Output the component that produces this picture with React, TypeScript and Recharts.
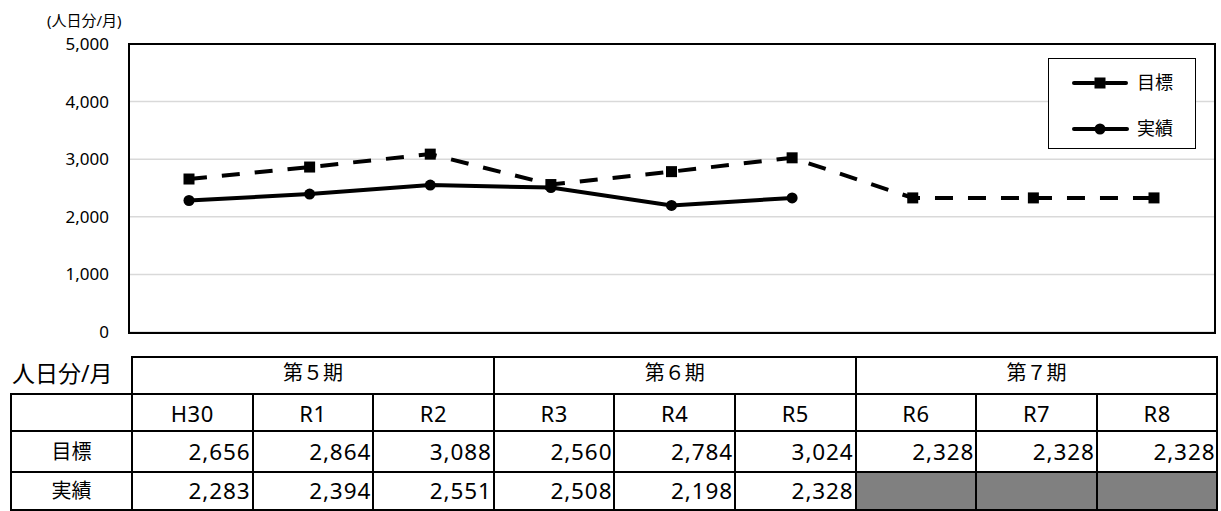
import { LineChart, Line, XAxis, YAxis, CartesianGrid, Legend } from 'recharts'

const categories = ['H30', 'R1', 'R2', 'R3', 'R4', 'R5', 'R6', 'R7', 'R8']
const targetValues = [2656, 2864, 3088, 2560, 2784, 3024, 2328, 2328, 2328]
const actualValues = [2283, 2394, 2551, 2508, 2198, 2328]
const periodLabels = ['第５期', '第６期', '第７期']
const periodSpan = 3
const yTicks = [0, 1000, 2000, 3000, 4000, 5000]
const seriesNames = ['目標', '実績']
const unitLabel = '(人日分/月)'
const tableUnit = '人日分/月'

const FONT = '"Noto Sans", "Noto Sans CJK JP", sans-serif'

const data = categories.map((name, i) => ({
  name,
  target: targetValues[i],
  actual: i < actualValues.length ? actualValues[i] : null,
}))

const fmt = (v: number) => v.toLocaleString('en-US')

function SquareDot(props: any) {
  const { cx, cy, index } = props
  if (cx == null || cy == null) return <g key={`sq-${index}`} />
  return <rect key={`sq-${index}`} x={cx - 5.5} y={cy - 5.5} width={11} height={11} fill="#000" />
}

function RoundDot(props: any) {
  const { cx, cy, index } = props
  if (cx == null || cy == null) return <g key={`rd-${index}`} />
  return <circle key={`rd-${index}`} cx={cx} cy={cy} r={5.5} fill="#000" />
}

function LegendBox() {
  return (
    <div
      style={{
        width: 148,
        height: 91,
        boxSizing: 'border-box',
        border: '1.5px solid #000',
        background: '#fff',
        fontFamily: FONT,
        fontSize: 18,
        color: '#000',
      }}
    >
      {seriesNames.map((name, i) => (
        <div key={name} style={{ position: 'relative', height: 45 }}>
          <svg width={60} height={20} style={{ position: 'absolute', left: 23, top: i === 0 ? 14 : 15 }}>
            {i === 0 ? (
              <>
                <line x1={2} y1={10} x2={22} y2={10} stroke="#000" strokeWidth={4} strokeLinecap="round" />
                <line x1={34} y1={10} x2={54} y2={10} stroke="#000" strokeWidth={4} strokeLinecap="round" />
                <rect x={22.5} y={4.5} width={11} height={11} fill="#000" />
              </>
            ) : (
              <>
                <line x1={2} y1={10} x2={55} y2={10} stroke="#000" strokeWidth={4} strokeLinecap="round" />
                <circle cx={28} cy={10} r={5.5} fill="#000" />
              </>
            )}
          </svg>
          <span style={{ position: 'absolute', left: 88, top: i === 0 ? 12 : 13, lineHeight: '22px' }}>{name}</span>
        </div>
      ))}
    </div>
  )
}

const cell: React.CSSProperties = {
  border: '2px solid #000',
  padding: 0,
  fontSize: 22,
  color: '#000',
  fontFamily: FONT,
  whiteSpace: 'nowrap',
  lineHeight: '26px',
}

const numCell: React.CSSProperties = {
  ...cell,
  textAlign: 'right',
  paddingRight: 1,
  fontSize: 22.5,
  letterSpacing: 0.9,
}

export default function App() {
  const rowHeights = [37, 37, 41, 38]
  return (
    <div style={{ position: 'absolute', left: 0, top: 0, width: 1221, height: 511, background: '#fff', fontFamily: FONT }}>
      <div style={{ position: 'absolute', left: 47, top: 9, fontSize: 15, color: '#000', lineHeight: '22px' }}>{unitLabel}</div>
      <LineChart width={1221} height={345} data={data} margin={{ top: 44, right: 7, bottom: 13, left: 0 }}>
        <CartesianGrid vertical={false} stroke="#d9d9d9" strokeWidth={1.5} />
        <XAxis dataKey="name" hide padding={{ left: 60, right: 60 }} />
        <YAxis
          width={129}
          domain={[0, 5000]}
          ticks={yTicks}
          interval={0}
          tickFormatter={fmt}
          axisLine={false}
          tickLine={false}
          tickSize={0}
          tickMargin={20}
          tick={{ fontSize: 17, fill: '#000', fontFamily: FONT }}
        />
        <Legend
          layout="horizontal"
          verticalAlign="middle"
          align="center"
          wrapperStyle={{ left: 1048, top: 58, width: 148, height: 91 }}
          content={() => <LegendBox />}
        />
        <Line
          dataKey="target"
          name={seriesNames[0]}
          stroke="#000"
          strokeWidth={4}
          strokeDasharray="18 15"
          dot={SquareDot}
          activeDot={false}
          isAnimationActive={false}
        />
        <Line
          dataKey="actual"
          name={seriesNames[1]}
          stroke="#000"
          strokeWidth={4}
          dot={RoundDot}
          activeDot={false}
          isAnimationActive={false}
        />
      </LineChart>
      <div
        style={{
          position: 'absolute',
          left: 128,
          top: 43,
          width: 1088,
          height: 291,
          boxSizing: 'border-box',
          border: '2px solid #000',
          pointerEvents: 'none',
        }}
      />
      <table
        style={{
          position: 'absolute',
          left: 10,
          top: 356,
          width: 1207,
          borderCollapse: 'collapse',
          tableLayout: 'fixed',
        }}
      >
        <colgroup>
          <col style={{ width: 121 }} />
          {categories.map((c) => (
            <col key={c} style={{ width: 120.6 }} />
          ))}
        </colgroup>
        <tbody>
          <tr style={{ height: rowHeights[0] }}>
            <td style={{ ...cell, border: 'none', textAlign: 'left', paddingLeft: 1, paddingBottom: 4, fontSize: 23 }}>
              {tableUnit}
            </td>
            {periodLabels.map((p) => (
              <td key={p} colSpan={periodSpan} style={{ ...cell, textAlign: 'center', fontSize: 20, paddingBottom: 5 }}>
                {p}
              </td>
            ))}
          </tr>
          <tr style={{ height: rowHeights[1] }}>
            <td style={cell} />
            {categories.map((c) => (
              <td key={c} style={{ ...cell, textAlign: 'center', letterSpacing: 0.5 }}>
                {c}
              </td>
            ))}
          </tr>
          <tr style={{ height: rowHeights[2] }}>
            <td style={{ ...cell, textAlign: 'center', fontSize: 20 }}>{seriesNames[0]}</td>
            {categories.map((c, i) => (
              <td key={c} style={numCell}>
                {fmt(targetValues[i])}
              </td>
            ))}
          </tr>
          <tr style={{ height: rowHeights[3] }}>
            <td style={{ ...cell, textAlign: 'center', fontSize: 20 }}>{seriesNames[1]}</td>
            {categories.map((c, i) => (
              <td key={c} style={{ ...numCell, background: i < actualValues.length ? '#fff' : '#808080' }}>
                {i < actualValues.length ? fmt(actualValues[i]) : ''}
              </td>
            ))}
          </tr>
        </tbody>
      </table>
    </div>
  )
}
